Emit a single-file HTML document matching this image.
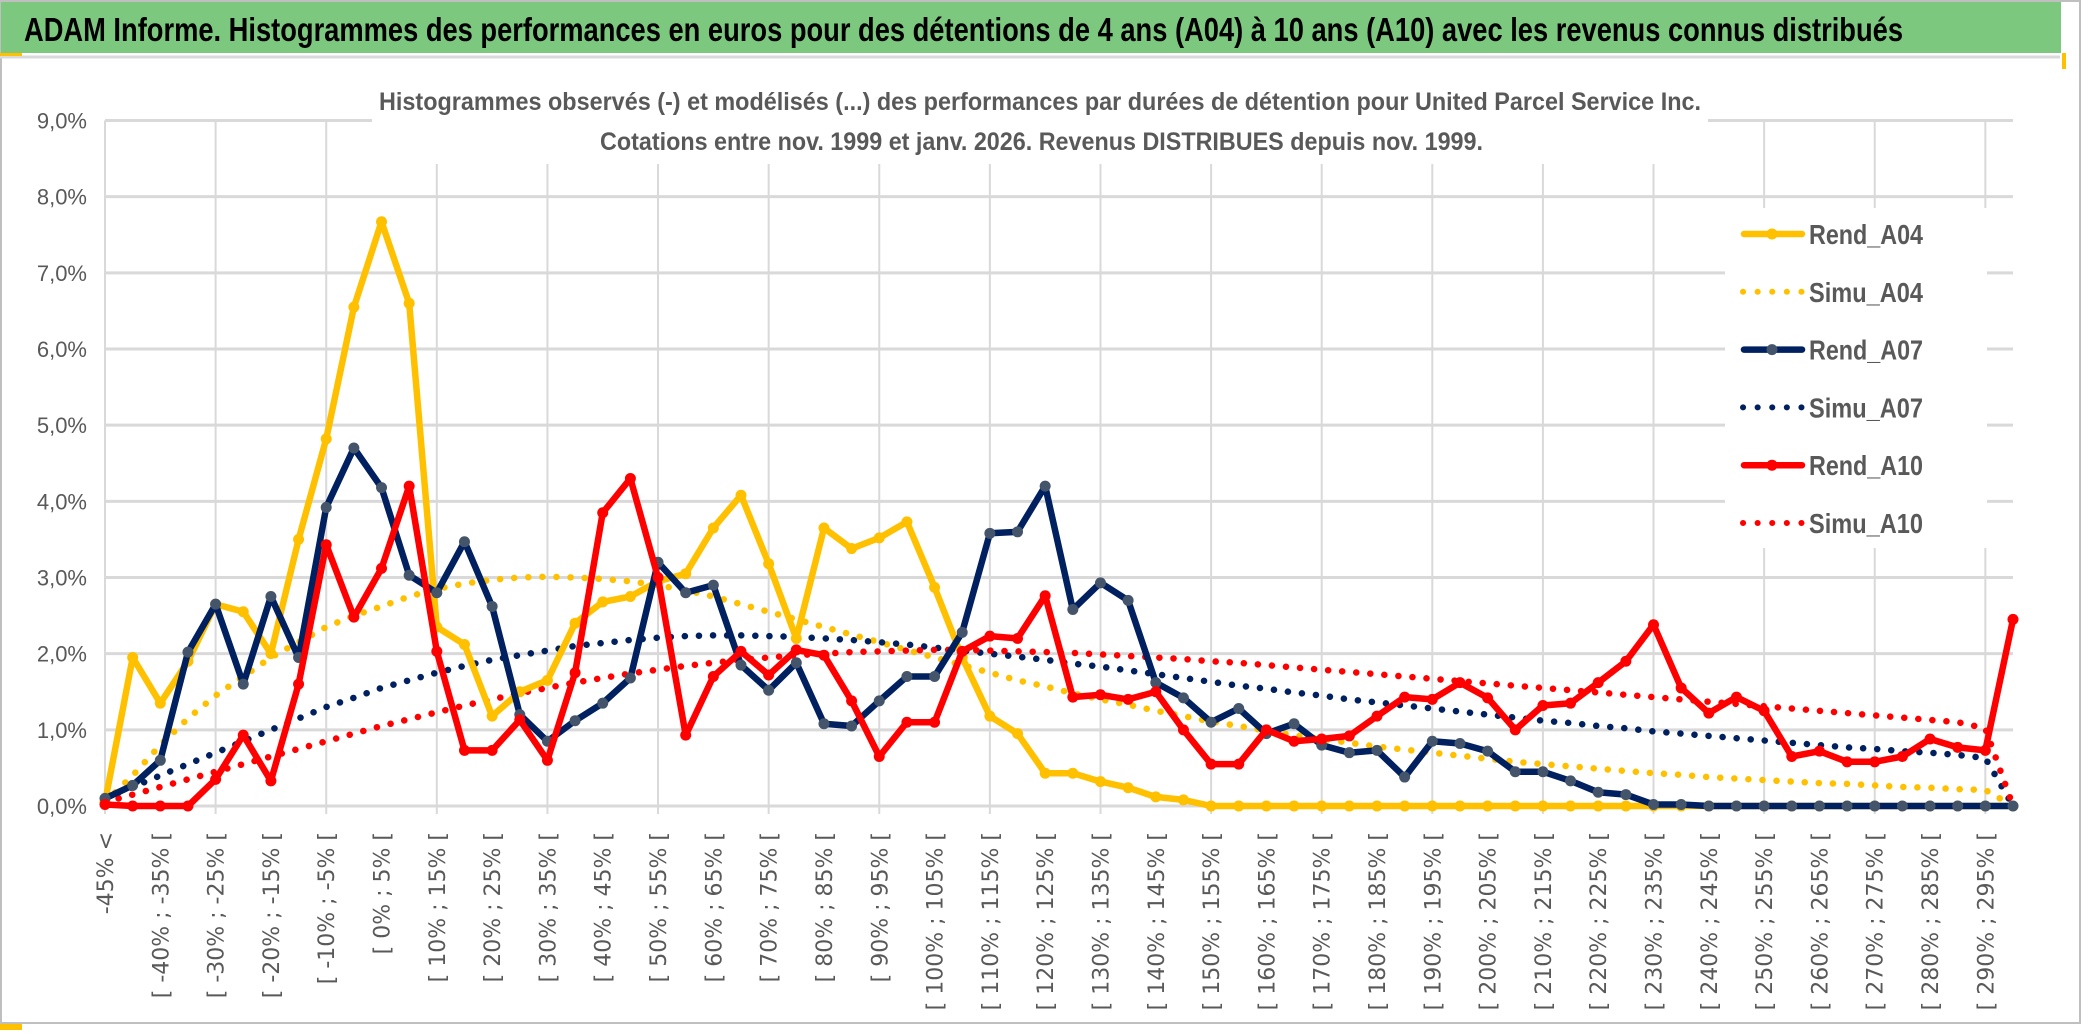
<!DOCTYPE html>
<html><head><meta charset="utf-8"><style>
html,body{margin:0;padding:0;background:#fff;}
svg{display:block;}
</style></head><body>
<svg id="chart" width="2086" height="1033" viewBox="0 0 2086 1033" xmlns="http://www.w3.org/2000/svg">
<rect x="0" y="0" width="2086" height="1033" fill="#fff"/>
<rect x="1" y="1" width="2079" height="1022" fill="none" stroke="#bfbfbf" stroke-width="2"/>
<rect x="1" y="2" width="2060" height="51" fill="#7dc87f"/>
<line x1="0" y1="57" x2="2060" y2="57" stroke="#d9d9d9" stroke-width="3"/>
<rect x="0" y="53" width="22" height="3" fill="#ffc000"/>
<rect x="2062" y="53" width="4" height="16" fill="#ffc000"/>
<rect x="0" y="1024" width="22" height="6" fill="#ffc000"/>
<text x="24" y="41" font-family="'Liberation Sans Narrow','Liberation Sans',sans-serif" font-weight="bold" font-size="33" fill="#000" textLength="1879" lengthAdjust="spacingAndGlyphs">ADAM Informe. Histogrammes des performances en euros pour des détentions de 4 ans (A04) à 10 ans (A10) avec les revenus connus distribués</text>
<g id="grid"></g>
<g id="yaxis"></g>
<g id="xaxis"></g>
<rect x="372" y="78" width="1336" height="86" fill="#fff"/>
<text x="379" y="110" font-family="'Liberation Sans Narrow','Liberation Sans',sans-serif" font-weight="bold" font-size="25" fill="#595959" textLength="1322" lengthAdjust="spacingAndGlyphs">Histogrammes observés (-) et modélisés (...) des performances par durées de détention pour United Parcel Service Inc.</text>
<text x="600" y="150" font-family="'Liberation Sans Narrow','Liberation Sans',sans-serif" font-weight="bold" font-size="25" fill="#595959" textLength="883" lengthAdjust="spacingAndGlyphs">Cotations entre nov. 1999 et janv. 2026. Revenus DISTRIBUES depuis nov. 1999.</text>
<g id="series"></g>
<rect x="1725" y="208" width="262" height="340" fill="#fff"/>
<g id="legend"></g>
</svg>
<script>
const categories = ["-45% <"];
for (let k = -45; k < 300; k += 5) categories.push("[ " + k + "% ; " + (k + 5) + "% [");
const yTicks = [0,1,2,3,4,5,6,7,8,9];
const yTickLabels = ["0,0%","1,0%","2,0%","3,0%","4,0%","5,0%","6,0%","7,0%","8,0%","9,0%"];
const rendA04 = [0.05,1.95,1.35,1.9,2.65,2.55,2.0,3.5,4.82,6.55,7.67,6.6,2.35,2.12,1.18,1.5,1.65,2.4,2.68,2.75,2.95,3.05,3.65,4.08,3.18,2.2,3.65,3.38,3.52,3.73,2.87,1.95,1.18,0.95,0.43,0.43,0.32,0.24,0.12,0.08,0,0,0,0,0,0,0,0,0,0,0,0,0,0,0,0,0,0,0,0,0,0,0,0,0,0,0,0,0,0];
const rendA07 = [0.1,0.27,0.6,2.02,2.65,1.6,2.75,1.95,3.92,4.7,4.18,3.03,2.8,3.47,2.62,1.2,0.85,1.12,1.35,1.68,3.2,2.8,2.9,1.85,1.52,1.88,1.08,1.05,1.38,1.7,1.7,2.28,3.58,3.6,4.2,2.58,2.93,2.7,1.62,1.42,1.1,1.28,0.95,1.08,0.8,0.7,0.73,0.38,0.85,0.82,0.72,0.45,0.45,0.33,0.18,0.15,0.02,0.02,0,0,0,0,0,0,0,0,0,0,0,0];
const rendA10 = [0.02,0,0,0,0.35,0.93,0.33,1.6,3.43,2.48,3.12,4.2,2.03,0.73,0.73,1.13,0.6,1.75,3.85,4.3,3.0,0.93,1.7,2.03,1.72,2.05,1.98,1.38,0.65,1.1,1.1,2.03,2.23,2.2,2.76,1.43,1.46,1.4,1.5,1.0,0.55,0.55,1.0,0.85,0.88,0.92,1.18,1.43,1.4,1.62,1.42,1.0,1.32,1.35,1.62,1.9,2.38,1.55,1.22,1.43,1.25,0.65,0.72,0.58,0.58,0.65,0.88,0.77,0.73,2.45];
const simuA04 = [0.05,0.4,0.8,1.15,1.45,1.7,1.95,2.15,2.35,2.5,2.62,2.75,2.85,2.92,2.97,3.0,3.01,3.0,2.98,2.95,2.9,2.83,2.75,2.65,2.55,2.45,2.35,2.25,2.15,2.05,1.95,1.85,1.75,1.65,1.57,1.48,1.4,1.33,1.25,1.18,1.11,1.05,0.99,0.93,0.88,0.83,0.78,0.74,0.7,0.66,0.62,0.58,0.55,0.52,0.49,0.46,0.43,0.41,0.38,0.36,0.34,0.32,0.3,0.29,0.27,0.25,0.24,0.22,0.21,0];
const simuA07 = [0.1,0.25,0.4,0.55,0.7,0.85,1.0,1.15,1.3,1.42,1.55,1.65,1.75,1.84,1.92,1.98,2.04,2.1,2.14,2.18,2.21,2.23,2.24,2.24,2.23,2.22,2.2,2.18,2.15,2.12,2.08,2.04,2.0,1.96,1.92,1.87,1.83,1.78,1.73,1.68,1.63,1.58,1.54,1.49,1.45,1.4,1.36,1.32,1.28,1.24,1.2,1.16,1.12,1.09,1.05,1.02,0.98,0.95,0.92,0.89,0.86,0.83,0.8,0.77,0.75,0.72,0.7,0.67,0.63,0];
const simuA10 = [0.05,0.15,0.25,0.35,0.45,0.55,0.65,0.75,0.85,0.95,1.05,1.14,1.23,1.32,1.4,1.48,1.55,1.62,1.68,1.74,1.79,1.84,1.88,1.92,1.95,1.98,2.0,2.02,2.03,2.04,2.05,2.05,2.04,2.03,2.02,2.01,1.99,1.97,1.95,1.93,1.9,1.88,1.85,1.82,1.79,1.76,1.73,1.7,1.67,1.64,1.61,1.58,1.55,1.52,1.49,1.46,1.43,1.4,1.37,1.34,1.31,1.28,1.25,1.22,1.19,1.16,1.13,1.1,1.02,0];
const legendLabels = ["Rend_A04","Simu_A04","Rend_A07","Simu_A07","Rend_A10","Simu_A10"];

const NS = "http://www.w3.org/2000/svg";
const X0 = 105, X1 = 2013, Y0 = 806, Y9 = 120.5, YMAX = 9;
function xPos(i){ return X0 + (X1 - X0) * i / (categories.length - 1); }
function yPos(v){ return Y0 - (Y0 - Y9) * v / YMAX; }
function mk(tag, attrs, parent){ const e = document.createElementNS(NS, tag); for (const k in attrs) e.setAttribute(k, attrs[k]); parent.appendChild(e); return e; }

const grid = document.getElementById('grid');
yTicks.forEach(function(t){
  const l = mk('line', {x1:X0, x2:X1, y1:yPos(t), y2:yPos(t), stroke:'#d9d9d9', 'stroke-width':3}, grid);
  
  
});
for (let i = 0; i < categories.length; i += 4) {
  const l = mk('line', {x1:xPos(i), x2:xPos(i), y1:Y9, y2:Y0 + 8, stroke:'#d9d9d9', 'stroke-width':2}, grid);
  
  
}
const yaxis = document.getElementById('yaxis');
yTicks.forEach(function(t, k){
  const tx = mk('text', {x:87, y:yPos(t) + 8, 'text-anchor':'end', 'font-family':"'Liberation Sans Narrow','Liberation Sans',sans-serif", 'font-size':22, fill:'#595959'}, yaxis);
  tx.textContent = yTickLabels[k];
  
  
});
const xaxis = document.getElementById('xaxis');
for (let i = 0; i < categories.length; i += 2) {
  const x = xPos(i) + 8, y = 832;
  const tx = mk('text', {x:x, y:y, transform:'rotate(-90 ' + x + ' ' + y + ')', 'text-anchor':'end', 'font-family':"'DejaVu Sans',sans-serif", 'font-size':22, fill:'#595959'}, xaxis);
  tx.textContent = categories[i];
  
  
}

const series = document.getElementById('series');
function pts(arr){ return arr.map(function(v, i){ return xPos(i).toFixed(1) + ',' + yPos(v).toFixed(1); }).join(' '); }
function dotted(arr, color, name){
  const p = mk('polyline', {points:pts(arr), fill:'none', stroke:color, 'stroke-width':6.5, 'stroke-linecap':'round', 'stroke-dasharray':'0.1 14'}, series);
  
  
}
function solid(arr, color, mcolor, name){
  const g = mk('g', {}, series);
  
  
  mk('polyline', {points:pts(arr), fill:'none', stroke:color, 'stroke-width':6.5, 'stroke-linejoin':'round'}, g);
  arr.forEach(function(v, i){
    const c = mk('circle', {cx:xPos(i), cy:yPos(v), r:5.5, fill:mcolor}, g);
    
    
  });
}
dotted(simuA04, '#ffc000', 'simu-a04-line');
dotted(simuA07, '#002060', 'simu-a07-line');
dotted(simuA10, '#ff0000', 'simu-a10-line');
solid(rendA04, '#ffc000', '#ffc000', 'rend-a04-line');
solid(rendA07, '#002060', '#44546a', 'rend-a07-line');
solid(rendA10, '#ff0000', '#ff0000', 'rend-a10-line');

const legend = document.getElementById('legend');
const legColors = ['#ffc000','#ffc000','#002060','#002060','#ff0000','#ff0000'];
const legMarker = ['#ffc000',null,'#44546a',null,'#ff0000',null];
legendLabels.forEach(function(lab, k){
  const y = 234 + k * 57.8;
  const g = mk('g', {}, legend);
  
  
  if (k % 2 === 0) {
    mk('line', {x1:1744, x2:1802, y1:y, y2:y, stroke:legColors[k], 'stroke-width':6.5, 'stroke-linecap':'round'}, g);
    mk('circle', {cx:1772, cy:y, r:5.5, fill:legMarker[k]}, g);
  } else {
    mk('line', {x1:1743, x2:1802, y1:y, y2:y, stroke:legColors[k], 'stroke-width':6, 'stroke-linecap':'round', 'stroke-dasharray':'0.1 14.5'}, g);
  }
  const tx = mk('text', {x:1809, y:y + 10, 'font-family':"'Liberation Sans Narrow','Liberation Sans',sans-serif", 'font-weight':'bold', 'font-size':28, fill:'#595959', textLength:114, lengthAdjust:'spacingAndGlyphs'}, g);
  tx.textContent = lab;
});
</script>
</body></html>
